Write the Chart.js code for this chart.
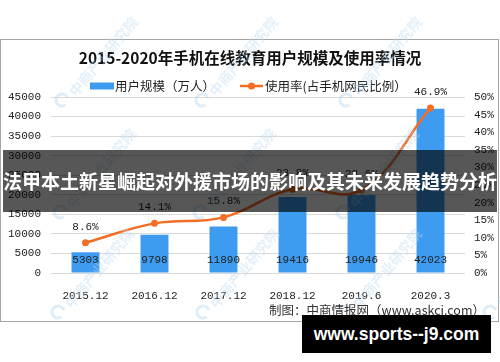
<!DOCTYPE html>
<html>
<head>
<meta charset="utf-8">
<script src="https://cdn.jsdelivr.net/npm/chart.js@4.4.0/dist/chart.umd.min.js"></script>
<style>
  body { margin: 0; background: #fff; width: 500px; height: 362px; overflow: hidden; position: relative; font-family: "Noto Sans CJK SC", sans-serif; }
  #frame { position: absolute; left: 0; top: 39px; width: 497px; height: 281px; border: 1px solid #a6a6a6; }
  #wrap { position: absolute; left: 0; top: 0; width: 500px; height: 362px; }
  #banner { position: absolute; left: 3px; top: 150px; width: 494px; height: 62px; background: rgba(0,0,0,0.66); color: #fff; font-weight: bold; font-size: 19px; line-height: 62px; text-align: center; white-space: nowrap; }
  #source { position: absolute; right: 15px; top: 300px; font-size: 12.5px; color: #333; white-space: nowrap; }
  #site { position: absolute; left: 302px; top: 315px; width: 189px; height: 38px; background: #000; color: #fff; font: bold 17.5px "Liberation Sans", Arial, sans-serif; line-height: 38px; text-align: center; }
</style>
</head>
<body>
<div id="frame"></div>
<div id="wrap"><canvas id="grafico" width="500" height="362"></canvas></div>
<div id="source">制图：中商情报网（www.askci.com）</div>
<div id="banner">法甲本土新星崛起对外援市场的影响及其未来发展趋势分析</div>
<div id="site">www.sports--j9.com</div>
<script>
// dados do gráfico
const titulo = '2015-2020年手机在线教育用户规模及使用率情况';
const categorias = ['2015.12', '2016.12', '2017.12', '2018.12', '2019.6', '2020.3'];
const usuarios = [5303, 9798, 11890, 19416, 19946, 42023];
const taxaUso = [8.6, 14.1, 15.8, 23.8, 23.6, 46.9];
const ticksEsquerda = [0, 5000, 10000, 15000, 20000, 25000, 30000, 35000, 40000, 45000];
const ticksDireita = [0, 5, 10, 15, 20, 25, 30, 35, 40, 45, 50];

const corBarra = '#3d9cf0';
const corLinha = '#f36d24';
const fonteNum = '"Liberation Mono", monospace';
const fonteCJK = '"Noto Sans CJK SC", sans-serif';

// titulo, legenda, rótulos e marca d'água
const extras = {
  id: 'extras',
  afterDatasetsDraw(chart) {
    const ctx = chart.ctx;
    const y = chart.scales.y;
    ctx.save();
    ctx.font = '11px ' + fonteNum;
    ctx.fillStyle = '#222';
    ctx.textAlign = 'center';
    ctx.textBaseline = 'middle';
    chart.getDatasetMeta(0).data.forEach((el, i) => {
      ctx.fillText(String(usuarios[i]), el.x, y.bottom - 13);
    });
    chart.getDatasetMeta(1).data.forEach((el, i) => {
      ctx.fillText(taxaUso[i].toFixed(1) + '%', el.x, el.y - 16);
    });
    ctx.restore();
  },
  afterDraw(chart) {
    const ctx = chart.ctx;
    const ds = chart.data.datasets;
    ctx.save();
    // titulo
    ctx.fillStyle = '#111';
    ctx.font = 'bold 15.5px ' + fonteCJK;
    ctx.textAlign = 'center';
    ctx.textBaseline = 'middle';
    ctx.fillText(titulo, 250, 58);
    // legenda
    ctx.font = '12.5px ' + fonteCJK;
    ctx.textAlign = 'left';
    ctx.fillStyle = ds[0].backgroundColor;
    ctx.fillRect(90, 82.5, 24, 7);
    ctx.fillStyle = '#222';
    ctx.fillText(ds[0].label, 115, 86);
    ctx.strokeStyle = ds[1].borderColor;
    ctx.lineWidth = 2.5;
    ctx.beginPath();
    ctx.moveTo(240, 86);
    ctx.lineTo(263, 86);
    ctx.stroke();
    ctx.fillStyle = ds[1].borderColor;
    ctx.beginPath();
    ctx.arc(251.5, 86, 3.5, 0, Math.PI * 2);
    ctx.fill();
    ctx.fillStyle = '#222';
    ctx.fillText(ds[1].label, 265, 86);
    // marca d'água
    const posicoes = [[62, 100], [202, 100], [346, 100], [60, 212], [200, 212], [343, 212], [58, 312], [203, 312], [346, 312], [490, 312]];
    ctx.strokeStyle = 'rgba(185,215,240,0.45)';
    ctx.fillStyle = 'rgba(185,215,240,0.4)';
    ctx.font = 'bold 14px ' + fonteCJK;
    posicoes.forEach(([px, py]) => {
      ctx.lineWidth = 3;
      ctx.beginPath();
      ctx.arc(px, py, 6, 0.3 * Math.PI, 1.9 * Math.PI);
      ctx.stroke();
      ctx.save();
      ctx.translate(px + 10, py - 6);
      ctx.rotate(-50 * Math.PI / 180);
      ctx.textBaseline = 'middle';
      ctx.fillText('中商产业研究院', 0, 0);
      ctx.restore();
    });
    ctx.restore();
  }
};

new Chart(document.getElementById('grafico').getContext('2d'), {
  data: {
    labels: categorias,
    datasets: [
      {
        type: 'bar',
        label: '用户规模（万人）',
        data: usuarios,
        backgroundColor: corBarra,
        categoryPercentage: 1,
        barPercentage: 0.405,
        yAxisID: 'y',
        order: 2
      },
      {
        type: 'line',
        label: '使用率(占手机网民比例）',
        data: taxaUso,
        borderColor: corLinha,
        backgroundColor: corLinha,
        borderWidth: 2.5,
        tension: 0.4,
        pointRadius: 3.5,
        pointBackgroundColor: corLinha,
        pointBorderWidth: 0,
        yAxisID: 'y1',
        order: 1
      }
    ]
  },
  options: {
    responsive: false,
    animation: false,
    layout: { padding: { top: 97, bottom: 59, left: 0, right: 0 } },
    plugins: {
      legend: { display: false },
      title: { display: false },
      tooltip: { enabled: false }
    },
    scales: {
      x: {
        grid: { display: false },
        border: { display: false },
        ticks: { color: '#222', padding: 8, font: { family: fonteNum, size: 11 } },
        afterFit(scale) { scale.height = 30; }
      },
      y: {
        position: 'left',
        min: ticksEsquerda[0],
        max: ticksEsquerda[ticksEsquerda.length - 1],
        ticks: {
          stepSize: ticksEsquerda[1] - ticksEsquerda[0],
          color: '#222',
          padding: 10,
          font: { family: fonteNum, size: 11 },
          callback: v => String(v)
        },
        grid: { color: '#d9d9d9', drawTicks: false },
        border: { display: false },
        afterFit(scale) { scale.width = 51; }
      },
      y1: {
        position: 'right',
        min: ticksDireita[0],
        max: ticksDireita[ticksDireita.length - 1],
        ticks: {
          stepSize: ticksDireita[1] - ticksDireita[0],
          color: '#222',
          padding: 9,
          font: { family: fonteNum, size: 11 },
          callback: v => v + '%'
        },
        grid: { display: false, drawTicks: false },
        border: { display: false },
        afterFit(scale) { scale.width = 35; }
      }
    }
  },
  plugins: [extras]
});
</script>
</body>
</html>
